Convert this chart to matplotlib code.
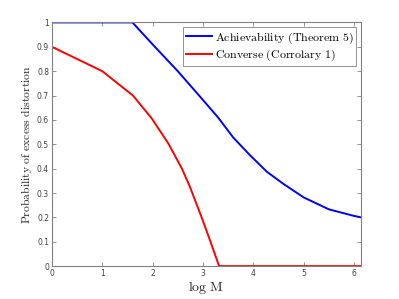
import numpy as np
import matplotlib
matplotlib.use("Agg")
import matplotlib.pyplot as plt

plt.rcParams['mathtext.fontset'] = 'cm'

# Achievability (Theorem 5)
ach_x = [0, 1.6, 2.0, 2.5, 2.94, 3.3, 3.6, 3.93, 4.27, 4.6, 5.0, 5.5, 6.0, 6.14]
ach_y = [1.0, 1.0, 0.91, 0.80, 0.696, 0.61, 0.528, 0.456, 0.387, 0.337, 0.282, 0.233, 0.206, 0.20]

# Converse (Corrolary 1)
conv_x = [0, 1.0, 1.61, 1.98, 2.31, 2.58, 2.74, 2.97, 3.14, 3.32, 6.14]
conv_y = [0.9, 0.8, 0.70, 0.607, 0.504, 0.401, 0.326, 0.202, 0.106, 0.0, 0.0]

x_ticks = [0, 1, 2, 3, 4, 5, 6]
y_ticks = [0, 0.1, 0.2, 0.3, 0.4, 0.5, 0.6, 0.7, 0.8, 0.9, 1]
y_tick_labels = ['0', '0.1', '0.2', '0.3', '0.4', '0.5', '0.6', '0.7', '0.8', '0.9', '1']

fig = plt.figure(figsize=(3.99, 2.99), dpi=100)
ax = fig.add_axes([0.13, 0.11, 0.775, 0.815])

ax.plot(ach_x, ach_y, color='#0000ff', linewidth=1.4, label='Achievability (Theorem 5)')
ax.plot(conv_x, conv_y, color='#ff0000', linewidth=1.4, label='Converse (Corrolary 1)')

ax.set_xlim(0, 6.14)
ax.set_ylim(0, 1)
ax.set_xticks(x_ticks)
ax.set_yticks(y_ticks)
ax.set_yticklabels(y_tick_labels)

grey = '#808080'
for s in ax.spines.values():
    s.set_color(grey)
    s.set_linewidth(0.8)
ax.tick_params(direction='in', length=3, width=0.6, colors=grey,
               labelsize=5.5, labelcolor='#404040', top=True, right=True, pad=2)

ax.set_xlabel(r'$\mathrm{log\ M}$', fontsize=10, labelpad=1, color='#262626')
ax.set_ylabel(r'$\mathrm{Probability\ of\ excess\ distortion}$', fontsize=8.4, labelpad=2, color='#262626')

leg = ax.legend(loc='upper right', prop={'size': 8.6},
                handlelength=2.2, handletextpad=0.2, borderpad=0.25,
                labelspacing=0.2, borderaxespad=0.4, fancybox=False, framealpha=1)
leg.get_frame().set_edgecolor(grey)
leg.get_frame().set_linewidth(0.6)
for t in leg.get_texts():
    t.set_text(r'$\mathrm{' + t.get_text().replace(' ', r'\ ') + '}$')

fig.savefig('out.png', dpi=100)
